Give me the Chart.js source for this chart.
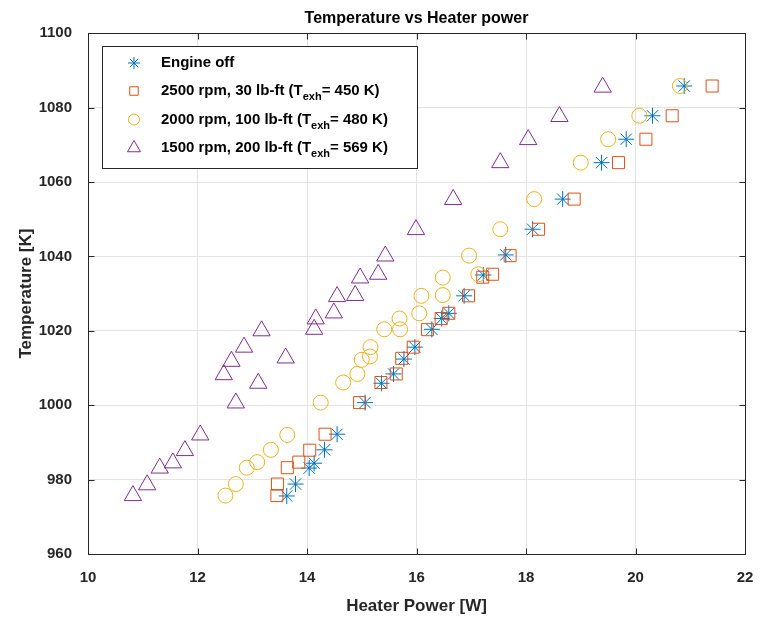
<!DOCTYPE html>
<html>
<head>
<meta charset="utf-8">
<script src="https://cdn.jsdelivr.net/npm/chart.js@4/dist/chart.umd.min.js"></script>
<style>
  html, body { margin: 0; padding: 0; background: #ffffff; }
</style>
</head>
<body>
<canvas id="tempChart" width="762" height="618"></canvas>
<script>
// Heater power [W] / temperature [K]
const engineOffPower = [13.63, 13.79, 14.04, 14.13, 14.32, 14.55, 15.06, 15.36, 15.58, 15.77, 15.97, 16.28, 16.46, 16.59, 16.87, 17.22, 17.63, 18.12, 18.67, 19.38, 19.83, 20.31, 20.89];
const engineOffTemp = [975.6, 978.8, 983.1, 984.4, 988.0, 992.2, 1000.7, 1005.9, 1008.4, 1012.4, 1015.6, 1020.4, 1023.3, 1024.7, 1029.4, 1035.0, 1040.4, 1047.3, 1055.4, 1065.2, 1071.5, 1077.8, 1085.8];

const rpm2500Power = [13.45, 13.46, 13.64, 13.85, 14.05, 14.33, 14.96, 15.35, 15.63, 15.73, 15.94, 16.20, 16.45, 16.59, 16.95, 17.21, 17.39, 17.71, 18.23, 18.88, 19.69, 20.19, 20.67, 21.40];
const rpm2500Temp = [975.7, 978.8, 983.2, 984.7, 987.9, 992.2, 1000.7, 1006.1, 1008.4, 1012.6, 1015.6, 1020.3, 1023.3, 1024.7, 1029.4, 1034.4, 1035.2, 1040.2, 1047.3, 1055.4, 1065.2, 1071.5, 1077.8, 1085.8];

const rpm2000Power = [12.51, 12.70, 12.90, 13.09, 13.34, 13.64, 14.25, 14.66, 14.92, 15.00, 15.15, 15.16, 15.41, 15.70, 15.69, 16.05, 16.09, 16.48, 16.48, 17.13, 16.96, 17.53, 18.15, 19.00, 19.50, 20.07, 20.81];
const rpm2000Temp = [975.7, 978.8, 983.2, 984.7, 988.0, 992.0, 1000.7, 1006.1, 1008.4, 1012.2, 1013.1, 1015.6, 1020.4, 1020.4, 1023.3, 1024.7, 1029.4, 1029.6, 1034.3, 1035.2, 1040.2, 1047.3, 1055.4, 1065.2, 1071.5, 1077.8, 1085.8];

const rpm1500Power = [10.82, 11.08, 11.31, 11.55, 11.77, 12.05, 12.70, 12.48, 13.11, 12.62, 12.85, 13.61, 13.17, 14.13, 14.16, 14.49, 14.55, 14.88, 14.97, 15.30, 15.43, 15.99, 16.67, 17.53, 18.04, 18.61, 19.40];
const rpm1500Temp = [975.7, 978.6, 983.1, 984.5, 987.8, 992.0, 1000.6, 1008.2, 1005.9, 1011.8, 1015.6, 1012.7, 1020.0, 1020.4, 1023.2, 1024.8, 1029.2, 1029.5, 1034.2, 1035.2, 1040.1, 1047.2, 1055.3, 1065.2, 1071.4, 1077.6, 1085.5];

const xTicks = [10, 12, 14, 16, 18, 20, 22];
const yTicks = [960, 980, 1000, 1020, 1040, 1060, 1080, 1100];

// legend text pieces: [before subscript, subscript, after subscript]
const seriesLabels = [
  ["Engine off", "", ""],
  ["2500 rpm, 30 lb-ft (T", "exh", "= 450 K)"],
  ["2000 rpm, 100 lb-ft (T", "exh", "= 480 K)"],
  ["1500 rpm, 200 lb-ft (T", "exh", "= 569 K)"],
];

const colors = {
  blue: "#0072BD",
  orange: "#D95319",
  yellow: "#EDB120",
  purple: "#7E2F8E",
  axis: "#262626",
  grid: "#e3e3e3",
};

const FONT = "'Liberation Sans', Arial, Helvetica, sans-serif";

const toPoints = (xs, ys) => xs.map((x, i) => ({ x: x, y: ys[i] }));

const markerStyles = [
  { pointStyle: "star", radius: 8, legendRadius: 6, color: colors.blue },
  { pointStyle: "rect", radius: 8.5, legendRadius: 6, color: colors.orange },
  { pointStyle: "circle", radius: 7.5, legendRadius: 5.5, color: colors.yellow },
  { pointStyle: "triangle", radius: 10, legendRadius: 7.5, color: colors.purple },
];

const seriesData = [
  toPoints(engineOffPower, engineOffTemp),
  toPoints(rpm2500Power, rpm2500Temp),
  toPoints(rpm2000Power, rpm2000Temp),
  toPoints(rpm1500Power, rpm1500Temp),
];

const datasets = seriesData.map((points, i) => ({
  label: seriesLabels[i].join(""),
  data: points,
  showLine: false,
  pointStyle: markerStyles[i].pointStyle,
  pointRadius: markerStyles[i].radius,
  pointHoverRadius: markerStyles[i].radius,
  pointBorderWidth: 1,
  borderColor: markerStyles[i].color,
  backgroundColor: "rgba(0,0,0,0)",
  order: 4 - i,
}));

// box, inward ticks and the boxed legend
const axesAndLegend = {
  id: "axesAndLegend",
  afterDatasetsDraw(chart) {
    const ctx = chart.ctx;
    const area = chart.chartArea;
    const xs = chart.scales.x;
    const ys = chart.scales.y;
    const tickLen = 6;

    ctx.save();
    ctx.strokeStyle = colors.axis;
    ctx.lineWidth = 1;
    const l = Math.round(area.left) + 0.5;
    const r = Math.round(area.right) + 0.5;
    const t = Math.round(area.top) + 0.5;
    const b = Math.round(area.bottom) + 0.5;
    ctx.strokeRect(l, t, r - l, b - t);

    ctx.beginPath();
    xTicks.forEach((v) => {
      const px = Math.round(xs.getPixelForValue(v)) + 0.5;
      ctx.moveTo(px, b);
      ctx.lineTo(px, b - tickLen);
      ctx.moveTo(px, t);
      ctx.lineTo(px, t + tickLen);
    });
    yTicks.forEach((v) => {
      const py = Math.round(ys.getPixelForValue(v)) + 0.5;
      ctx.moveTo(l, py);
      ctx.lineTo(l + tickLen, py);
      ctx.moveTo(r, py);
      ctx.lineTo(r - tickLen, py);
    });
    ctx.stroke();

    // legend
    const box = { x: 102.5, y: 46.5, w: 315, h: 122 };
    ctx.fillStyle = "#ffffff";
    ctx.fillRect(box.x, box.y, box.w, box.h);
    ctx.strokeStyle = colors.axis;
    ctx.strokeRect(box.x, box.y, box.w, box.h);

    const rowY = [63, 91, 119.5, 148];
    const markerX = 134;
    const textX = 161;
    seriesLabels.forEach((parts, i) => {
      const y = rowY[i];
      ctx.strokeStyle = markerStyles[i].color;
      ctx.fillStyle = "rgba(0,0,0,0)";
      ctx.lineWidth = 1;
      Chart.helpers.drawPoint(ctx, {
        pointStyle: markerStyles[i].pointStyle,
        radius: markerStyles[i].legendRadius,
        rotation: 0,
        borderWidth: 1,
      }, markerX, y);

      ctx.fillStyle = "#000000";
      ctx.textBaseline = "middle";
      ctx.textAlign = "left";
      let x = textX;
      ctx.font = "bold 15px " + FONT;
      ctx.fillText(parts[0], x, y);
      x += ctx.measureText(parts[0]).width;
      if (parts[1]) {
        ctx.font = "bold 11px " + FONT;
        ctx.fillText(parts[1], x, y + 6);
        x += ctx.measureText(parts[1]).width;
        ctx.font = "bold 15px " + FONT;
        ctx.fillText(parts[2], x, y);
      }
    });
    ctx.restore();
  },
};

new Chart(document.getElementById("tempChart").getContext("2d"), {
  type: "scatter",
  data: { datasets: datasets },
  options: {
    responsive: false,
    animation: false,
    events: [],
    layout: { padding: { left: 0, right: 17, top: 0, bottom: 0 } },
    plugins: {
      legend: { display: false },
      tooltip: { enabled: false },
      title: {
        display: true,
        fullSize: false,
        text: "Temperature vs Heater power",
        color: "#000000",
        font: { family: FONT, size: 16, weight: "bold" },
        padding: { top: 9, bottom: 5 },
      },
    },
    scales: {
      x: {
        type: "linear",
        min: 10,
        max: 22,
        afterFit: (scale) => {
          scale.height = 64;
          scale.paddingLeft = 0;
          scale.paddingRight = 0;
        },
        afterBuildTicks: (scale) => { scale.ticks = xTicks.map((v) => ({ value: v })); },
        grid: { color: colors.grid, drawTicks: false },
        border: { display: false },
        ticks: {
          color: colors.axis,
          padding: 15,
          font: { family: FONT, size: 15, weight: "bold" },
          callback: (value) => String(value),
        },
        title: {
          display: true,
          text: "Heater Power [W]",
          color: colors.axis,
          padding: 1,
          font: { family: FONT, size: 17, weight: "bold" },
        },
      },
      y: {
        type: "linear",
        min: 960,
        max: 1100,
        afterFit: (scale) => {
          scale.width = 88;
          scale.paddingTop = 0;
          scale.paddingBottom = 0;
        },
        afterBuildTicks: (scale) => { scale.ticks = yTicks.map((v) => ({ value: v })); },
        grid: { color: colors.grid, drawTicks: false },
        border: { display: false },
        ticks: {
          color: colors.axis,
          padding: 16,
          font: { family: FONT, size: 15, weight: "bold" },
          callback: (value) => String(value),
        },
        title: {
          display: true,
          text: "Temperature [K]",
          color: colors.axis,
          padding: 16,
          font: { family: FONT, size: 17, weight: "bold" },
        },
      },
    },
  },
  plugins: [axesAndLegend],
});
</script>
</body>
</html>
